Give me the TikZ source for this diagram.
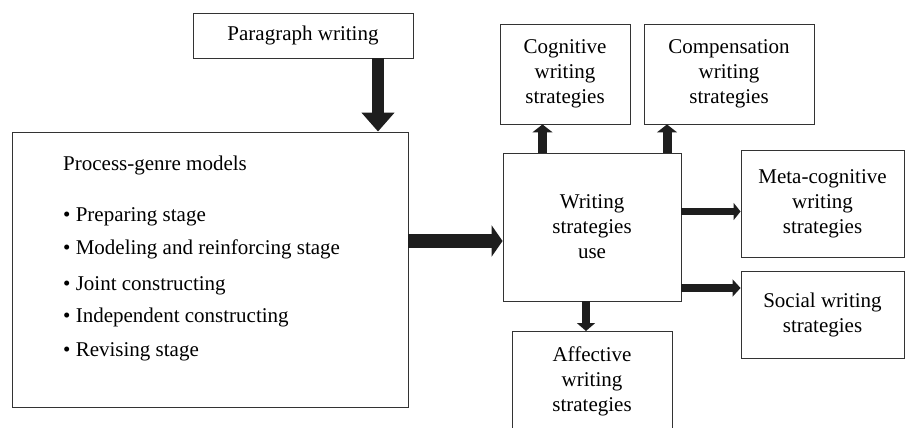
\documentclass[tikz,border=0pt]{standalone}
\usepackage{fontspec}
\setmainfont{Liberation Serif}
\usetikzlibrary{arrows.meta,calc}
\definecolor{arr}{HTML}{1E1E1E}
\definecolor{edge}{HTML}{333333}
\begin{document}
\begin{tikzpicture}[x=1pt,y=-1pt,
  box/.style={draw=edge, line width=0.9pt, fill=white, inner sep=0pt, align=center,
              font=\fontsize{21}{25}\selectfont},
  txt/.style={inner sep=0pt, align=center, font=\fontsize{21}{25}\selectfont},
  fat/.style n args={3}{draw=arr, line width=#1, -{Triangle[width=#2, length=#3]}}]
\useasboundingbox (0,0) rectangle (905,428);
\clip (0,0) rectangle (905,428);
\fill[white] (0,0) rectangle (905,428);

\node[box, minimum width=220pt, minimum height=45pt] (para) at (303,35.5) {Paragraph writing};
\node[box, minimum width=396pt, minimum height=275pt] (proc) at (210,269.5) {};
\node[txt, anchor=base west] (p0) at (63,170) {Process-genre models};
\node[txt, anchor=base west] (p1) at (63,221) {• Preparing stage};
\node[txt, anchor=base west] (p2) at (63,254) {• Modeling and reinforcing stage};
\node[txt, anchor=base west] (p3) at (63,290) {• Joint constructing};
\node[txt, anchor=base west] (p4) at (63,322) {• Independent constructing};
\node[txt, anchor=base west] (p5) at (63,356) {• Revising stage};

\node[box, minimum width=178pt, minimum height=148pt] (wsu) at (592,227) {Writing\\strategies\\use};
\node[box, minimum width=130pt, minimum height=100pt] (cog) at (565,74) {Cognitive\\writing\\strategies};
\node[box, minimum width=170pt, minimum height=100pt] (comp) at (729,74) {Compensation\\writing\\strategies};
\node[box, minimum width=163pt, minimum height=107pt] (meta) at (822.5,203.5) {Meta-cognitive\\writing\\strategies};
\node[box, minimum width=163pt, minimum height=87pt] (soc) at (822.5,314.5) {Social writing\\strategies};
\node[box, minimum width=160pt, minimum height=130pt, anchor=north] (aff) at (592,331) {};
\node[txt] (afft) at (592,381) {Affective\\writing\\strategies};

\draw[fat={12pt}{32pt}{19pt}] ([xshift=75pt]para.south) -- ([xshift=168pt]proc.north);
\draw[fat={14pt}{31pt}{11pt}] ([yshift=28.5pt]proc.east) -- ([yshift=-14pt]wsu.west);
\draw[fat={9pt}{20pt}{8pt}] ([xshift=-49.5pt]wsu.north) -- ([xshift=-22.5pt]cog.south);
\draw[fat={9pt}{20pt}{8pt}] ([xshift=75pt]wsu.north) -- ([xshift=-62pt]comp.south);
\draw[fat={7.5pt}{17pt}{7pt}] ([yshift=15.5pt]wsu.east) -- ([yshift=-8pt]meta.west);
\draw[fat={8pt}{17pt}{8pt}] ([yshift=-61pt]wsu.east) -- ([yshift=26.5pt]soc.west);
\draw[fat={8pt}{18pt}{8pt}] ([xshift=-6pt]wsu.south) -- ([xshift=-6pt]aff.north);
\end{tikzpicture}
\end{document}
